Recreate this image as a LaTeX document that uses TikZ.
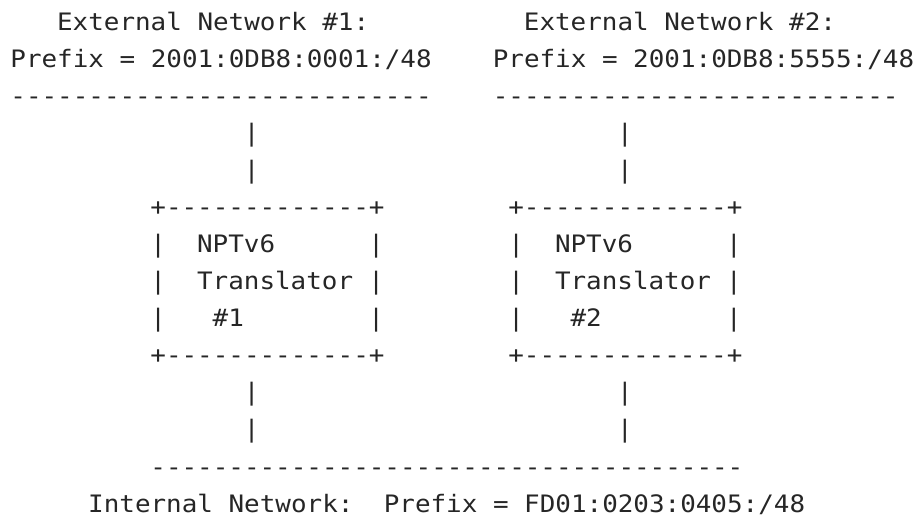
\documentclass[tikz,border=0pt]{standalone}
\usepackage{fontspec}
\setmonofont{DejaVu Sans Mono}[FakeStretch=1.08]
\tikzset{
  ascii/.style={anchor=base west, inner sep=0pt,
    font=\ttfamily\fontsize{12}{14}\selectfont, text=black!85},
}
\begin{document}
\begin{tikzpicture}[x=0.5pt,y=-0.5pt]
  \useasboundingbox (0,0) rectangle (917,515);
  % external networks
  \node[ascii] (extone) at (56.7,30) {External Network \#1:};
  \node[ascii] (exttwo) at (523.5,30) {External Network \#2:};
  \node[ascii] (pfxone) at (10,67.1) {Prefix = 2001:0DB8:0001:/48};
  \node[ascii] (pfxtwo) at (492.4,67.1) {Prefix = 2001:0DB8:5555:/48};
  \node[ascii] (netone) at (10,104.2) {---------------------------};
  \node[ascii] (nettwo) at (492.4,104.2) {--------------------------};
  % links up and down
  \foreach \r/\y in {a/141.2,b/178.3,c/400.8,d/437.9} {
    \node[ascii] (linkone\r) at (243.4,\y) {|};
    \node[ascii] (linktwo\r) at (616.8,\y) {|};
  }
  % translator boxes
  \node[ascii] (boxonetop) at (150,215.4) {+-------------+};
  \node[ascii] (boxtwotop) at (507.9,215.4) {+-------------+};
  \foreach \r/\y in {a/252.5,b/289.6,c/326.6} {
    \node[ascii] (boxonel\r) at (150,\y) {|};
    \node[ascii] (boxoner\r) at (367.9,\y) {|};
    \node[ascii] (boxtwol\r) at (507.9,\y) {|};
    \node[ascii] (boxtwor\r) at (725.8,\y) {|};
  }
  \node[ascii] (boxonebot) at (150,363.7) {+-------------+};
  \node[ascii] (boxtwobot) at (507.9,363.7) {+-------------+};
  \node[ascii] (nptone) at (196.7,252.5) {NPTv6};
  \node[ascii] (trone) at (196.7,289.6) {Translator};
  \node[ascii] (numone) at (212.3,326.6) {\#1};
  \node[ascii] (npttwo) at (554.6,252.5) {NPTv6};
  \node[ascii] (trtwo) at (554.6,289.6) {Translator};
  \node[ascii] (numtwo) at (570.2,326.6) {\#2};
  % internal network
  \node[ascii] (netin) at (150,475) {--------------------------------------};
  \node[ascii] (inlabel) at (87.8,512) {Internal Network:};
  \node[ascii] (inpfx) at (383.4,512) {Prefix = FD01:0203:0405:/48};
\end{tikzpicture}
\end{document}
